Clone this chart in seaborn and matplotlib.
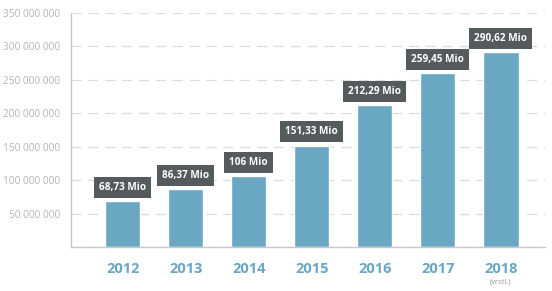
import pandas as pd
import seaborn as sns
import matplotlib.pyplot as plt
from matplotlib.ticker import FuncFormatter

years = ['2012', '2013', '2014', '2015', '2016', '2017', '2018']
values = [68.73e6, 86.37e6, 106e6, 151.33e6, 212.29e6, 259.45e6, 290.62e6]
value_labels = ['68,73 Mio', '86,37 Mio', '106 Mio', '151,33 Mio', '212,29 Mio', '259,45 Mio', '290,62 Mio']
note_2018 = '(vrstl.)'

df = pd.DataFrame({'year': years, 'value': values})

sns.set_style('white')
plt.rcParams['font.family'] = ['Open Sans', 'DejaVu Sans']

bar_color = '#6aa7c3'
fig = plt.figure(figsize=(5.52, 2.91), dpi=100)
ax = fig.add_axes([0.1286, 0.1512, 0.8587, 0.805])

sns.barplot(data=df, x='year', y='value', color=bar_color, width=0.56, saturation=1, ax=ax)

ax.set_ylim(0, 350e6)
ax.set_xlim(-0.82, 6.7)
ax.set_yticks(range(0, 350000001, 50000000))
ax.yaxis.set_major_formatter(FuncFormatter(lambda v, p: '' if v == 0 else f'{int(v):,}'.replace(',', ' ')))
ax.grid(axis='y', linestyle=(0, (8, 5.5)), color='#dcdcdc', linewidth=0.9)
ax.set_axisbelow(True)

for s in ['top', 'right']:
    ax.spines[s].set_visible(False)
for s in ['left', 'bottom']:
    ax.spines[s].set_color('#c8c8c8')
    ax.spines[s].set_linewidth(1.0)

ax.tick_params(axis='y', length=0, labelsize=7.3, labelcolor='#b4b4b4', pad=8)
ax.tick_params(axis='x', length=0, labelsize=10.5, labelcolor=bar_color, pad=11)
for t in ax.get_xticklabels():
    t.set_fontweight('bold')
ax.set_xlabel('')
ax.set_ylabel('')

# Wertebeschriftungen
for i, (v, lab) in enumerate(zip(values, value_labels)):
    ax.annotate(lab, xy=(i, v), xytext=(0, 10), textcoords='offset points',
                ha='center', va='center', fontsize=7.2, fontweight='bold', color='white',
                bbox=dict(boxstyle='square,pad=0.5', fc='#555a5d', ec='none'))

ax.annotate(note_2018, xy=(6, 0), xytext=(0, -25.5), textcoords='offset points',
            ha='center', va='center', fontsize=5.5, color='#9a9a9a')

plt.savefig('out.png', dpi=100)
